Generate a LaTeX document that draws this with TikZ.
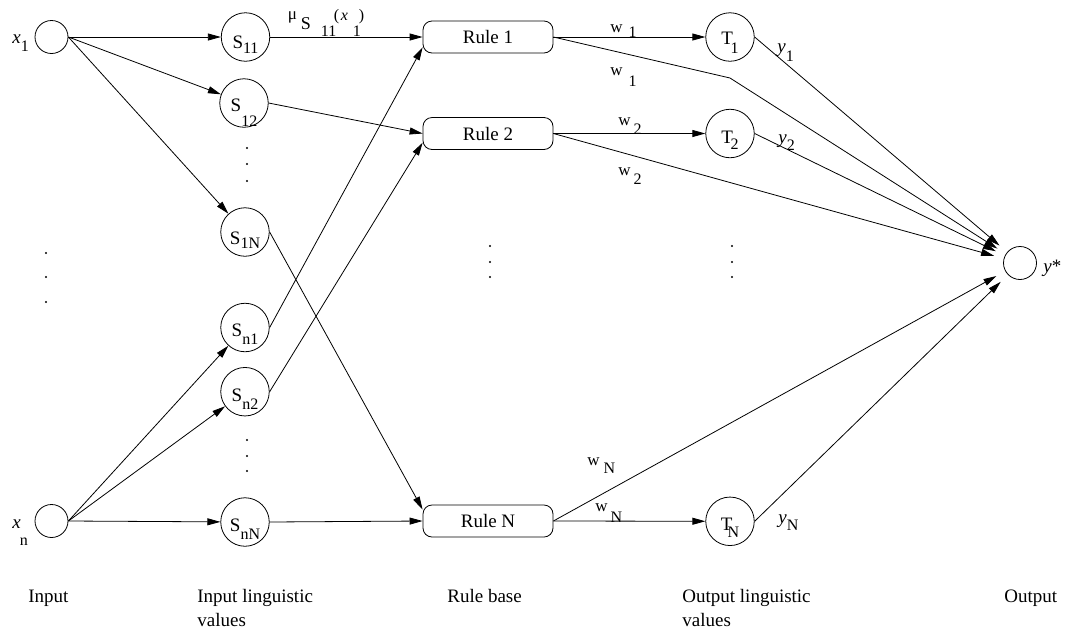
\documentclass[tikz,border=0pt]{standalone}
\usepackage{fontspec}
\setmainfont{Liberation Serif}
\usetikzlibrary{arrows.meta}

\newcommand{\mainsz}{\fontsize{19}{24}\selectfont}
\newcommand{\subsz}{\fontsize{16}{16}\selectfont}
\newcommand{\wsz}{\fontsize{17}{17}\selectfont}
% letter lowered by #1, followed by an index lowered by #3
\newcommand{\cl}[4]{\lower#1\hbox{#2}\lower#3\hbox{\subsz #4}}
% weight label: w, a gap, then its index lowered
\newcommand{\wl}[3]{{\wsz w}\hspace{#1}\lower#2\hbox{\subsz #3}}
% a piece of text put at an offset from the label's base point
\newcommand{\putat}[3]{\rlap{\hspace*{#1}\raisebox{#2}{#3}}}

\begin{document}
\begin{tikzpicture}[x=1pt,y=-1pt,line width=0.8pt,
  >={Triangle[length=13pt,width=7pt]},
  every node/.style={inner sep=0pt},
  incirc/.style={draw,circle,minimum size=33pt},
  lingcirc/.style={draw,circle,minimum size=48.5pt,text height=0pt,text depth=0pt,font=\mainsz},
  rulebox/.style={draw,rounded corners=9pt,minimum width=130pt,minimum height=32pt,font=\mainsz},
  lbl/.style={anchor=base west,font=\mainsz},
  wlbl/.style={anchor=base west},
  toout/.style={->,shorten >=10pt}]

\useasboundingbox (0,0) rectangle (1071,633);

% input nodes
\node[incirc] (x1) at (51.5,37) {};
\node[incirc] (xn) at (51.5,521) {};
\node[lbl] (lx1) at (12,43.5) {\textit{x}\lower8pt\hbox{\subsz 1}};
\node[lbl] (lxn) at (12,528) {\textit{x}\hspace{-1pt}\lower17pt\hbox{\subsz n}};

% input linguistic values
\node[lingcirc] (s11) at (245.5,37) {\cl{11pt}{S}{16pt}{11}};
\node[lingcirc] (s12) at (244,103) {\cl{8.7pt}{S}{23.5pt}{12}};
\node[lingcirc] (s1N) at (245,232) {\cl{12.5pt}{S}{16.5pt}{1N}};
\node[lingcirc] (sn1) at (245,327.5) {\cl{9.2pt}{S}{16.8pt}{n1}};
\node[lingcirc] (sn2) at (245,391.7) {\cl{10pt}{S}{17.7pt}{n2}};
\node[lingcirc] (snN) at (245,522) {\cl{9.7pt}{S}{17.5pt}{nN}};

% rule base
\node[rulebox] (r1) at (488,37) {Rule 1};
\node[rulebox] (r2) at (488,133.5) {Rule 2};
\node[rulebox] (rN) at (488,521) {Rule N};

% output linguistic values
\node[lingcirc] (t1) at (730,37) {\cl{7.8pt}{T\kern-2.5pt}{16pt}{1}};
\node[lingcirc] (t2) at (730,133.5) {\cl{9.5pt}{T\kern-2.5pt}{16pt}{2}};
\node[lingcirc] (tN) at (730,521.3) {\cl{8.7pt}{T\kern-5pt}{16pt}{N}};

% output node
\node[incirc] (out) at (1020,263) {};
\node[lbl] (ly) at (1043,272) {\textit{y}*};

% fuzzification
\draw[->] (x1.east) -- (s11);
\draw[->] (x1.east) -- (s12);
\draw[->] (x1.east) -- (s1N);
\draw[->] (xn.east) -- (sn1);
\draw[->] (xn.east) -- (sn2);
\draw[->] (xn.east) -- (snN);

% membership degrees into the rules
\draw[->] (s11.east) -- (r1.west);
\draw[->] (s12.east) -- (r2.west);
\draw[->] (s1N.east) -- (rN.170);
\draw[->] (sn1.east) -- (r1.189);
\draw[->] (sn2.east) -- (r2.188);
\draw[->] (snN.east) -- (rN.west);
\node[wlbl] (mu) at (287,19) {%
  \putat{0pt}{0pt}{\fontsize{17}{17}\selectfont μ}%
  \putat{13pt}{-10pt}{\fontsize{18}{18}\selectfont S}%
  \putat{33pt}{-17pt}{\subsz 11}%
  \putat{46pt}{-1pt}{\subsz (}%
  \putat{53pt}{-1pt}{\subsz\textit{x}}%
  \putat{65pt}{-17pt}{\subsz 1}%
  \putat{71pt}{-1pt}{\subsz )}};

% rule firing strengths
\coordinate (k1) at (730,78);
\draw[->] (r1.east) -- (t1);
\draw[->] (r2.east) -- (t2);
\draw[->] (rN.east) -- (tN);
\draw[toout] (r1.east) -- (k1) -- (out);
\draw[toout] (r2.east) -- (out);
\draw[toout] (rN.east) -- (out);
\node[wlbl] (w1a) at (610,32) {\wl{6pt}{5pt}{1}};
\node[wlbl] (w1b) at (610,75) {\wl{6pt}{11pt}{1}};
\node[wlbl] (w2a) at (618,125) {\wl{3pt}{9pt}{2}};
\node[wlbl] (w2b) at (618,175) {\wl{3pt}{9pt}{2}};
\node[wlbl] (wNa) at (587,465) {\wl{4pt}{8pt}{N}};
\node[wlbl] (wNb) at (595,511) {\wl{3pt}{11pt}{N}};

% defuzzification
\draw[toout] (t1.east) -- (out);
\draw[toout] (t2.east) -- (out);
\draw[toout] (tN.east) -- (out);
\node[lbl] (y1) at (777,52) {\textit{y}\lower9.5pt\hbox{\subsz 1}};
\node[lbl] (y2) at (778,143) {\textit{y}\lower7pt\hbox{\subsz 2}};
\node[lbl] (yN) at (778,523) {\textit{y}\lower7pt\hbox{\subsz N}};

% ellipsis dots
\foreach \px/\py in {46/253,46/277,46/302,
                     247/148,247/164,247/181,247/440,247/456,247/471,
                     490/246,490/262,490/277,732/246,732/262,732/277}
  \fill (\px,\py) circle (1.1pt);

% layer captions (two-line captions sit on the baseline of their last line)
\node[lbl] (c1) at (28,602) {Input};
\node[lbl,align=left] (c2) at (197,626) {Input linguistic\\values};
\node[lbl] (c3) at (447,602) {Rule base};
\node[lbl,align=left] (c4) at (682,626) {Output linguistic\\values};
\node[lbl] (c5) at (1004,602) {Output};
\end{tikzpicture}
\end{document}
